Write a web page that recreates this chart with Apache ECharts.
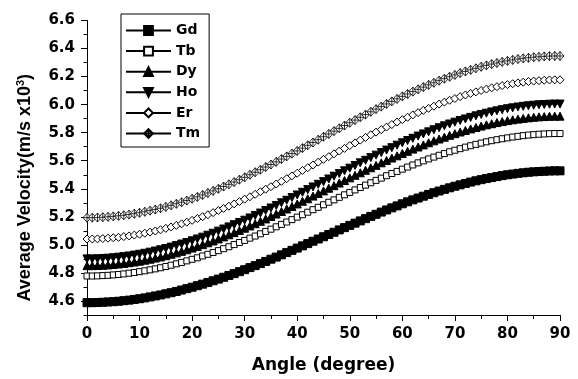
<!DOCTYPE html>
<html>
<head>
<meta charset="utf-8">
<script src="https://cdn.jsdelivr.net/npm/echarts@6/dist/echarts.min.js"></script>
<style>html,body{margin:0;padding:0;background:#fff}#c{width:578px;height:379px}</style>
</head>
<body>
<div id="c"></div>
<script>
var angles = [0,1,2,3,4,5,6,7,8,9,10,11,12,13,14,15,16,17,18,19,20,21,22,23,24,25,26,27,28,29,30,
31,32,33,34,35,36,37,38,39,40,41,42,43,44,45,46,47,48,49,50,51,52,53,54,55,56,57,58,59,60,
61,62,63,64,65,66,67,68,69,70,71,72,73,74,75,76,77,78,79,80,81,82,83,84,85,86,87,88,89,90];

var gd = [4.588,4.588,4.589,4.591,4.593,4.595,4.598,4.602,4.606,4.611,
4.616,4.622,4.629,4.636,4.643,4.651,4.659,4.668,4.678,4.688,
4.698,4.709,4.720,4.732,4.744,4.756,4.769,4.782,4.795,4.809,
4.823,4.838,4.852,4.867,4.882,4.898,4.913,4.929,4.945,4.961,
4.977,4.993,5.009,5.026,5.042,5.058,5.074,5.090,5.107,5.123,
5.139,5.155,5.171,5.187,5.203,5.218,5.234,5.249,5.264,5.278,
5.293,5.307,5.321,5.334,5.347,5.360,5.372,5.384,5.396,5.407,
5.418,5.428,5.438,5.448,5.457,5.465,5.473,5.480,5.487,5.494,
5.500,5.505,5.510,5.514,5.518,5.521,5.523,5.525,5.527,5.528,
5.528];

var tb = [4.778,4.778,4.779,4.781,4.783,4.786,4.789,4.793,4.798,4.803,
4.809,4.815,4.822,4.829,4.837,4.846,4.855,4.865,4.875,4.886,
4.897,4.908,4.921,4.933,4.946,4.959,4.973,4.987,5.002,5.017,
5.032,5.048,5.063,5.079,5.096,5.112,5.129,5.146,5.163,5.180,
5.198,5.215,5.233,5.251,5.268,5.286,5.304,5.321,5.339,5.357,
5.374,5.392,5.409,5.426,5.443,5.460,5.476,5.493,5.509,5.524,
5.540,5.555,5.570,5.585,5.599,5.613,5.626,5.639,5.651,5.664,
5.675,5.686,5.697,5.707,5.717,5.726,5.735,5.743,5.750,5.757,
5.763,5.769,5.774,5.779,5.783,5.786,5.789,5.791,5.793,5.794,
5.794];

var dy = [4.852,4.852,4.853,4.855,4.857,4.860,4.864,4.868,4.873,4.878,
4.884,4.891,4.898,4.906,4.914,4.923,4.933,4.943,4.954,4.965,
4.977,4.989,5.002,5.015,5.028,5.042,5.057,5.072,5.087,5.103,
5.119,5.135,5.151,5.168,5.185,5.203,5.220,5.238,5.256,5.274,
5.292,5.311,5.329,5.348,5.366,5.385,5.404,5.422,5.441,5.459,
5.478,5.496,5.514,5.532,5.550,5.567,5.585,5.602,5.619,5.635,
5.652,5.667,5.683,5.698,5.713,5.728,5.742,5.755,5.768,5.781,
5.793,5.805,5.816,5.827,5.837,5.847,5.856,5.864,5.872,5.879,
5.886,5.892,5.897,5.902,5.906,5.910,5.913,5.915,5.917,5.918,
5.918];

var ho = [4.900,4.900,4.901,4.903,4.905,4.908,4.912,4.916,4.921,4.927,
4.933,4.940,4.948,4.956,4.965,4.974,4.984,4.995,5.006,5.017,
5.029,5.042,5.055,5.069,5.083,5.098,5.113,5.128,5.144,5.160,
5.176,5.192,5.210,5.227,5.245,5.263,5.281,5.300,5.318,5.337,
5.356,5.375,5.394,5.413,5.432,5.451,5.470,5.490,5.509,5.528,
5.547,5.566,5.585,5.603,5.622,5.640,5.658,5.676,5.693,5.711,
5.728,5.744,5.760,5.776,5.791,5.806,5.821,5.835,5.849,5.862,
5.875,5.887,5.898,5.909,5.920,5.930,5.939,5.948,5.956,5.964,
5.971,5.977,5.983,5.988,5.992,5.996,5.999,6.001,6.003,6.004,
6.004];

var er = [5.042,5.042,5.043,5.045,5.048,5.051,5.054,5.059,5.064,5.070,
5.076,5.083,5.091,5.099,5.108,5.118,5.128,5.139,5.150,5.162,
5.175,5.188,5.201,5.215,5.230,5.245,5.260,5.276,5.292,5.309,
5.326,5.343,5.361,5.379,5.397,5.415,5.434,5.453,5.472,5.492,
5.511,5.531,5.550,5.570,5.590,5.610,5.629,5.649,5.669,5.688,
5.708,5.727,5.747,5.766,5.785,5.804,5.822,5.840,5.858,5.876,
5.893,5.910,5.927,5.943,5.959,5.974,5.989,6.004,6.018,6.031,
6.044,6.057,6.069,6.080,6.091,6.101,6.111,6.120,6.128,6.136,
6.143,6.149,6.155,6.160,6.165,6.168,6.171,6.174,6.176,6.177,
6.177];

var tm = [5.194,5.194,5.195,5.197,5.200,5.203,5.207,5.211,5.216,5.222,
5.229,5.236,5.244,5.252,5.261,5.271,5.282,5.293,5.304,5.316,
5.329,5.342,5.356,5.370,5.385,5.400,5.416,5.432,5.448,5.465,
5.482,5.500,5.518,5.536,5.555,5.573,5.592,5.612,5.631,5.651,
5.670,5.690,5.710,5.730,5.750,5.771,5.791,5.811,5.831,5.851,
5.871,5.890,5.910,5.929,5.949,5.968,5.986,6.005,6.023,6.041,
6.059,6.076,6.093,6.109,6.125,6.141,6.156,6.171,6.185,6.199,
6.212,6.225,6.237,6.248,6.259,6.270,6.280,6.289,6.297,6.305,
6.312,6.319,6.325,6.330,6.334,6.338,6.341,6.344,6.346,6.347,
6.347];

var seriesNames = ['Gd','Tb','Dy','Ho','Er','Tm'];
var yMajorTicks = [4.6,4.8,5.0,5.2,5.4,5.6,5.8,6.0,6.2,6.4,6.6];
var yMinorTicks = [4.5,4.7,4.9,5.1,5.3,5.5,5.7,5.9,6.1,6.3,6.5];
var xTicks = [0,10,20,30,40,50,60,70,80,90];

function pairs(vals){ return angles.map(function(a,i){ return [a, vals[i]]; }); }

var styles = [
  {symbol:'rect', size:8, fill:'#000', bw:1},
  {symbol:'rect', size:6, fill:'#fff', bw:1},
  {symbol:'triangle', size:8, fill:'#000', bw:1},
  {symbol:'path://M0 0 L10 0 L5 10 Z', size:8, fill:'#000', bw:1},
  {symbol:'diamond', size:8, fill:'#fff', bw:1},
  {symbol:'path://M5 0 L10 5 L5 10 L0 5 Z M5 0 L5 10 M0 5 L10 5', size:[8,9], fill:'#fff', bw:0.8}
];
var allVals = [gd,tb,dy,ho,er,tm];

var series = allVals.map(function(v,i){
  return {
    name: seriesNames[i], type:'line', data: pairs(v),
    symbol: styles[i].symbol, symbolSize: styles[i].size, showAllSymbol: true,
    lineStyle:{color:'#000', width:1},
    itemStyle:{color: styles[i].fill, borderColor:'#000', borderWidth: styles[i].bw},
    emphasis:{disabled:true}, animation:false
  };
});

var fontD = 'DejaVu Sans';
var chart = echarts.init(document.getElementById('c'));
chart.setOption({
  backgroundColor:'#fff',
  animation:false,
  grid:{left:87, right:18, top:20.5, bottom:62},
  legend:{
    orient:'vertical', left:121, top:14,
    data: seriesNames,
    borderColor:'#000', borderWidth:1, padding:[9,9,6,4],
    itemWidth:45, itemHeight:11, itemGap:5.6,
    textStyle:{fontFamily:fontD, fontWeight:'bold', fontSize:14, color:'#000', lineHeight:15}
  },
  xAxis:{
    type:'value', min:0, max:90, interval:10,
    name:'Angle (degree)', nameLocation:'middle', nameGap:42,
    nameTextStyle:{fontFamily:fontD, fontWeight:'bold', fontSize:17, color:'#000'},
    axisLine:{lineStyle:{color:'#000', width:1}},
    axisTick:{show:true, length:6, lineStyle:{color:'#000'}},
    minorTick:{show:true, splitNumber:2, length:4, lineStyle:{color:'#000'}},
    splitLine:{show:false},
    axisLabel:{fontFamily:fontD, fontWeight:'bold', fontSize:15, color:'#000', margin:12,
      customValues: xTicks}
  },
  yAxis:[{
    type:'value', min:4.5, max:6.6,
    name:'{a|Average Velocity(m/s x10}{s|3}{a|)}{p|}', nameLocation:'middle', nameGap:52, nameRotate:90,
    nameTextStyle:{rich:{
      a:{fontFamily:'Liberation Sans', fontWeight:'bold', fontSize:18, color:'#000'},
      s:{fontFamily:'Liberation Sans', fontWeight:'bold', fontSize:11, color:'#000', verticalAlign:'top', padding:[0,0,9,0]},
      p:{width:40}
    }},
    axisLine:{show:true, lineStyle:{color:'#000', width:1}},
    axisTick:{show:true, length:6, lineStyle:{color:'#000'}, customValues: yMajorTicks},
    splitLine:{show:false},
    axisLabel:{fontFamily:fontD, fontWeight:'bold', fontSize:15, color:'#000', margin:12,
      customValues: yMajorTicks, formatter:function(v){ return v.toFixed(1); }}
  },{
    type:'value', min:4.5, max:6.6, position:'left',
    axisLine:{show:false},
    axisTick:{show:true, length:3.5, lineStyle:{color:'#000'}, customValues: yMinorTicks},
    axisLabel:{show:false},
    splitLine:{show:false}
  }],
  series: series
});
</script>
</body>
</html>
